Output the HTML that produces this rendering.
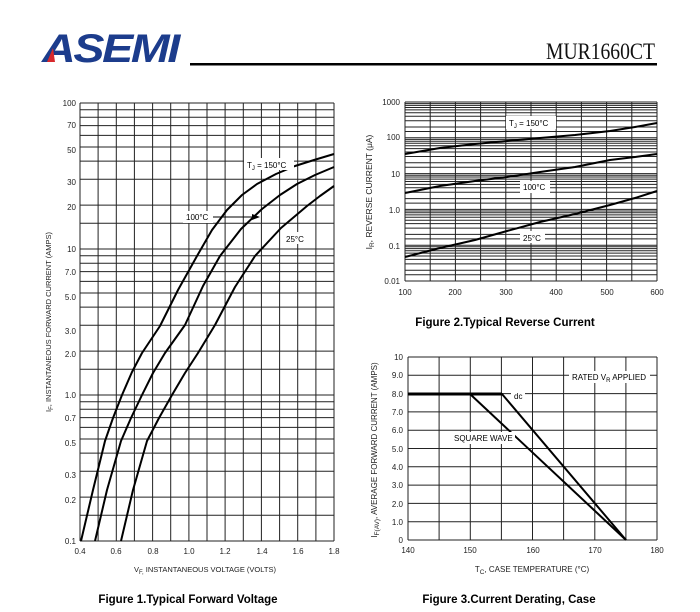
<!DOCTYPE html>
<html><head><meta charset="utf-8"><style>
body{margin:0;background:#fff;}
svg{display:block;font-family:"Liberation Sans",Arial,sans-serif;}
</style></head><body>
<svg width="700" height="612" viewBox="0 0 700 612" xmlns="http://www.w3.org/2000/svg">
<!-- header -->
<text x="42" y="62" font-size="40" font-weight="bold" font-style="italic" fill="#1c3c8c" textLength="136" lengthAdjust="spacingAndGlyphs" style="letter-spacing:-2px">ASEMI</text>
<polygon points="47,62 53,48 55,62" fill="#d8282c"/>
<text x="546" y="59" font-family="Liberation Serif,serif" font-size="23" fill="#111" textLength="109" lengthAdjust="spacingAndGlyphs">MUR1660CT</text>
<rect x="190" y="63" width="467" height="2.5" fill="#000"/>

<!-- grids -->
<g stroke="#222" stroke-width="1" fill="none">
<path d="M80 103V541M98.1 103V541M116.3 103V541M134.4 103V541M152.6 103V541M170.7 103V541M188.9 103V541M207 103V541M225.1 103V541M243.3 103V541M261.4 103V541M279.6 103V541M297.7 103V541M315.9 103V541M334 103V541"/>
<path d="M80 541H334M80 515.3H334M80 497.1H334M80 471.3H334M80 453.1H334M80 439H334M80 427.4H334M80 417.6H334M80 409.2H334M80 401.7H334M80 395H334M80 369.3H334M80 351.1H334M80 325.3H334M80 307.1H334M80 293H334M80 281.4H334M80 271.6H334M80 263.2H334M80 255.7H334M80 249H334M80 223.3H334M80 205.1H334M80 179.3H334M80 161.1H334M80 147H334M80 135.4H334M80 125.6H334M80 117.2H334M80 109.7H334M80 103H334"/>
<path d="M405 102V281M430.2 102V281M455.4 102V281M480.6 102V281M505.8 102V281M531 102V281M556.2 102V281M581.4 102V281M606.6 102V281M631.8 102V281M657 102V281"/>
<path d="M405 281H657M405 274.7H657M405 270.2H657M405 263.9H657M405 259.4H657M405 256H657M405 253.1H657M405 250.7H657M405 248.6H657M405 246.8H657M405 245.2H657M405 238.9H657M405 234.4H657M405 228.1H657M405 223.6H657M405 220.2H657M405 217.3H657M405 214.9H657M405 212.8H657M405 211H657M405 209.4H657M405 203.1H657M405 198.6H657M405 192.3H657M405 187.8H657M405 184.4H657M405 181.5H657M405 179.1H657M405 177H657M405 175.2H657M405 173.6H657M405 167.3H657M405 162.8H657M405 156.5H657M405 152H657M405 148.6H657M405 145.7H657M405 143.3H657M405 141.2H657M405 139.4H657M405 137.8H657M405 131.5H657M405 127H657M405 120.7H657M405 116.2H657M405 112.8H657M405 109.9H657M405 107.5H657M405 105.4H657M405 103.6H657M405 102H657"/>
<path d="M408 357V540M439.1 357V540M470.3 357V540M501.4 357V540M532.5 357V540M563.6 357V540M594.8 357V540M625.9 357V540M657 357V540"/>
<path d="M408 540H657M408 521.7H657M408 503.4H657M408 485.1H657M408 466.8H657M408 448.5H657M408 430.2H657M408 411.9H657M408 393.6H657M408 375.3H657M408 357H657"/>
</g>

<!-- fig1 curves -->
<g fill="none" stroke="#000" stroke-width="2" stroke-linejoin="round">
<polyline points="81,541 93,490 105,441 113,418 122,395 132,372 142,353 160,326 178,290 197,256 212,230 227,210 242,195 257,184 276,174 295,166 314,160 334,154"/>
<polyline points="95,541 107,490 121,441 131,418 142,395 153,373 165,353 185,325 203,286 220,256 241,229 262,209 280,195 297,184 315,175 334,167"/>
<polyline points="121,541 133,490 147,441 159,418 172,395 185,373 198,353 215,325 235,287 255,256 281,228 307,206 320,196 334,186"/>
</g>
<g font-size="8" fill="#000">
<rect x="244" y="158" width="50" height="12" fill="#fff"/>
<text x="247" y="168">T<tspan font-size="6" dy="2">J</tspan><tspan dy="-2"> = 150°C</tspan></text>
<rect x="183" y="211" width="30" height="12" fill="#fff"/>
<text x="186" y="220">100°C</text>
<line x1="213" y1="217" x2="255" y2="217" stroke="#000" stroke-width="1"/>
<polygon points="260,217 252,214 252,220" fill="#000"/>
<rect x="283" y="232" width="24" height="12" fill="#fff"/>
<text x="286" y="242">25°C</text>
</g>
<g font-size="8" fill="#222" text-anchor="end">
<text x="76" y="106">100</text><text x="76" y="128">70</text><text x="76" y="153">50</text>
<text x="76" y="185">30</text><text x="76" y="210">20</text><text x="76" y="252">10</text>
<text x="76" y="275">7.0</text><text x="76" y="300">5.0</text><text x="76" y="334">3.0</text>
<text x="76" y="357">2.0</text><text x="76" y="398">1.0</text><text x="76" y="421">0.7</text>
<text x="76" y="446">0.5</text><text x="76" y="478">0.3</text><text x="76" y="503">0.2</text>
<text x="76" y="544">0.1</text>
</g>
<g font-size="8" fill="#222" text-anchor="middle">
<text x="80" y="554">0.4</text><text x="116" y="554">0.6</text><text x="153" y="554">0.8</text>
<text x="189" y="554">1.0</text><text x="225" y="554">1.2</text><text x="262" y="554">1.4</text>
<text x="298" y="554">1.6</text><text x="334" y="554">1.8</text>
<text x="205" y="572" font-size="7.5">V<tspan font-size="6" dy="2">F,</tspan><tspan dy="-2"> INSTANTANEOUS VOLTAGE (VOLTS)</tspan></text>
<text transform="translate(51,322) rotate(-90)" font-size="7.5">I<tspan font-size="6" dy="2">F</tspan><tspan dy="-2">, INSTANTANEOUS FORWARD CURRENT (AMPS)</tspan></text>
</g>
<text x="188" y="603" font-size="11.5" font-weight="bold" text-anchor="middle">Figure 1.Typical  Forward  Voltage</text>

<!-- fig2 -->
<g fill="none" stroke="#000" stroke-width="2" stroke-linejoin="round">
<polyline points="405,154 440,148 475,144 507,141 540,138 575,135 610,131 635,127 657,123"/>
<polyline points="405,193 440,186 475,181 507,177 540,172 575,167 610,160 635,157 657,154"/>
<polyline points="405,257 440,248 475,240 507,231 540,222 575,214 610,205 635,198 657,191"/>
</g>
<g font-size="8" fill="#000">
<rect x="506" y="116" width="50" height="13" fill="#fff"/>
<text x="509" y="126">T<tspan font-size="6" dy="2">J</tspan><tspan dy="-2"> = 150°C</tspan></text>
<rect x="520" y="181" width="30" height="12" fill="#fff"/>
<text x="523" y="190">100°C</text>
<rect x="520" y="231" width="25" height="12" fill="#fff"/>
<text x="523" y="241">25°C</text>
</g>
<g font-size="8" fill="#222" text-anchor="end">
<text x="400" y="105">1000</text><text x="400" y="140">100</text><text x="400" y="177">10</text>
<text x="400" y="213">1.0</text><text x="400" y="249">0.1</text><text x="400" y="284">0.01</text>
</g>
<g font-size="8" fill="#222" text-anchor="middle">
<text x="405" y="295">100</text><text x="455" y="295">200</text><text x="506" y="295">300</text>
<text x="556" y="295">400</text><text x="607" y="295">500</text><text x="657" y="295">600</text>
<text transform="translate(372,192) rotate(-90)" font-size="8.5">I<tspan font-size="6.5" dy="2">R</tspan><tspan dy="-2">, REVERSE CURRENT (μA)</tspan></text>
</g>
<text x="505" y="326" font-size="11.5" font-weight="bold" text-anchor="middle">Figure 2.Typical  Reverse  Current</text>

<!-- fig3 -->
<g fill="none" stroke="#000" stroke-linejoin="round">
<polyline points="408,394 502,394 626,540" stroke-width="2"/>
<polyline points="470,394 626,540" stroke-width="2"/>
<line x1="408" y1="394" x2="502" y2="394" stroke-width="3"/>
</g>
<g font-size="8" fill="#000">
<rect x="569" y="371" width="81" height="12" fill="#fff"/>
<text x="572" y="380">RATED V<tspan font-size="6" dy="2">R</tspan><tspan dy="-2"> APPLIED</tspan></text>
<rect x="511" y="390" width="14" height="12" fill="#fff"/>
<text x="514" y="399">dc</text>
<rect x="451" y="432" width="64" height="12" fill="#fff"/>
<text x="454" y="441">SQUARE WAVE</text>
</g>
<g font-size="8" fill="#222" text-anchor="end">
<text x="403" y="360">10</text><text x="403" y="378">9.0</text><text x="403" y="397">8.0</text>
<text x="403" y="415">7.0</text><text x="403" y="433">6.0</text><text x="403" y="452">5.0</text>
<text x="403" y="470">4.0</text><text x="403" y="488">3.0</text><text x="403" y="507">2.0</text>
<text x="403" y="525">1.0</text><text x="403" y="543">0</text>
</g>
<g font-size="8" fill="#222" text-anchor="middle">
<text x="408" y="553">140</text><text x="470" y="553">150</text><text x="533" y="553">160</text>
<text x="595" y="553">170</text><text x="657" y="553">180</text>
<text x="532" y="572" font-size="8">T<tspan font-size="6.5" dy="2">C</tspan><tspan dy="-2">, CASE TEMPERATURE (°C)</tspan></text>
<text transform="translate(377,450) rotate(-90)" font-size="8">I<tspan font-size="6.5" dy="2">F(AV)</tspan><tspan dy="-2">, AVERAGE FORWARD CURRENT (AMPS)</tspan></text>
</g>
<text x="509" y="603" font-size="11.5" font-weight="bold" text-anchor="middle">Figure 3.Current  Derating,  Case</text>
</svg>
</body></html>
